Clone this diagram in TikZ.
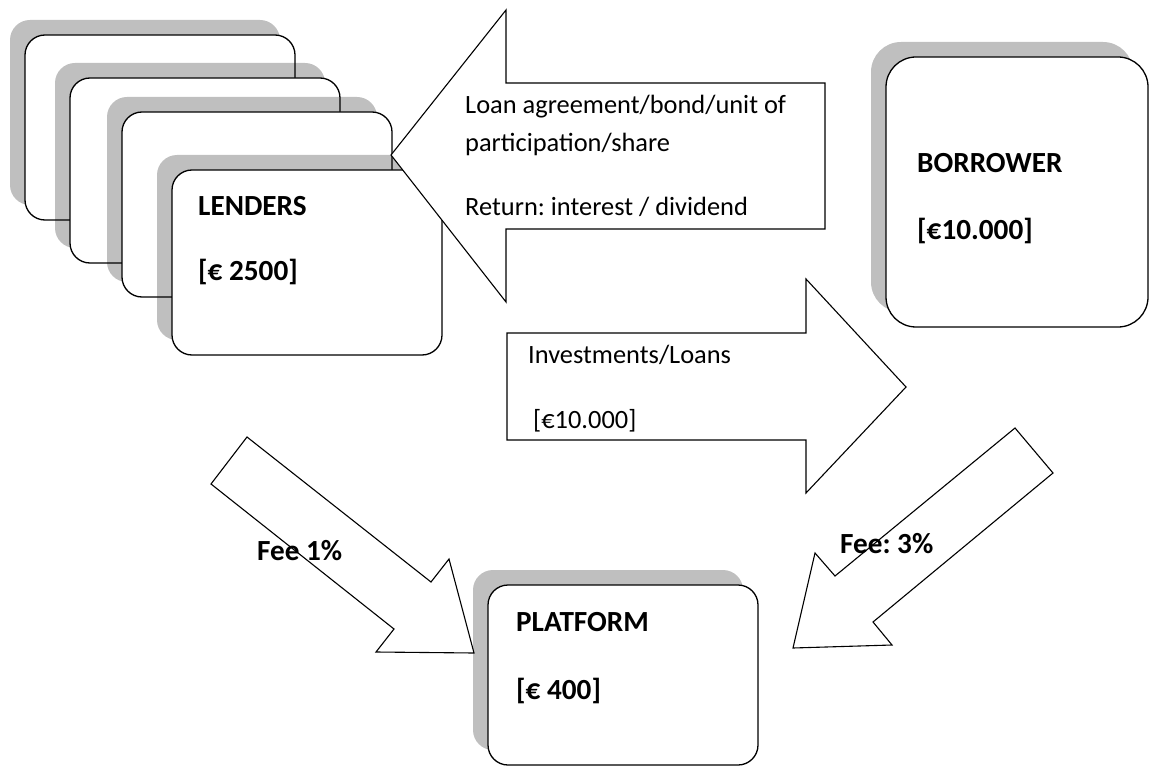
\documentclass[tikz,border=0pt]{standalone}
\usepackage{fontspec}
\setmainfont{Carlito}
\frenchspacing
\begin{document}
\begin{tikzpicture}[x=1pt,y=-1pt,
  shadowbox/.style={fill=black,fill opacity=0.25,draw=none},
  card/.style={draw=black,fill=white,line width=1.3pt},
  bigarrow/.style={draw=black,fill=white,line width=1.1pt,line join=miter},
  lbl/.style={anchor=base west,inner sep=0pt,font=\fontsize{26.4}{30}\selectfont},
  blbl/.style={anchor=base west,inner sep=0pt,font=\fontsize{29.2}{33}\selectfont\bfseries}]
\useasboundingbox (0,0) rectangle (1150,767);
% lender cards
\foreach \x/\y in {25/35,70/78,122/112,172/170}{
  \fill[shadowbox,rounded corners=20pt] (\x-15,\y-15) rectangle ++(270,185);
  \draw[card,rounded corners=20pt] (\x,\y) rectangle ++(270,185);
}
\node[blbl] (lenders) at (198,216) {LENDERS};
\node[blbl] (lendamt) at (198,280) {[€ 2500]};
% big left arrow
\draw[bigarrow] (825,83) -- (506,83) -- (506,10) -- (391,155) -- (506,302) -- (506,229) -- (825,229) -- cycle;
\node[lbl] (loan1) at (465,114) {Loan agreement/bond/unit of};
\node[lbl] (loan2) at (465,152) {participation/share};
\node[lbl] (ret) at (465,216) {Return: interest / dividend};
% right arrow
\draw[bigarrow] (507,333) -- (806,333) -- (806,279) -- (906,387) -- (806,493) -- (806,440) -- (507,440) -- cycle;
\node[lbl] (inv) at (528,363) {Investments/Loans};
\node[lbl] (invamt) at (533,428) {[€10.000]};
% borrower
\fill[shadowbox,rounded corners=30pt] (871,42) rectangle ++(262,270);
\draw[card,rounded corners=30pt] (886,57) rectangle ++(262,270);
\node[blbl] (borrower) at (917,173) {BORROWER};
\node[blbl] (boramt) at (917,240) {[€10.000]};
% fee arrows
\draw[bigarrow] (247,437) -- (431,582) -- (449,559) -- (474,653) -- (376,652) -- (394,629) -- (211,484) -- cycle;
\draw[bigarrow] (1015,428) -- (835,576) -- (815,553) -- (793,648) -- (892,645) -- (873,622) -- (1053,473) -- cycle;
% platform
\fill[shadowbox,rounded corners=20pt] (473,570) rectangle ++(270,180);
\draw[card,rounded corners=20pt] (488,585) rectangle ++(270,180);
\node[blbl] (platform) at (516,631) {PLATFORM};
\node[blbl] (platamt) at (516,699) {[€ 400]};
\node[blbl] (fee1) at (257,560) {Fee 1\%};
\node[blbl] (fee3) at (840,553) {Fee: 3\%};
\end{tikzpicture}
\end{document}
